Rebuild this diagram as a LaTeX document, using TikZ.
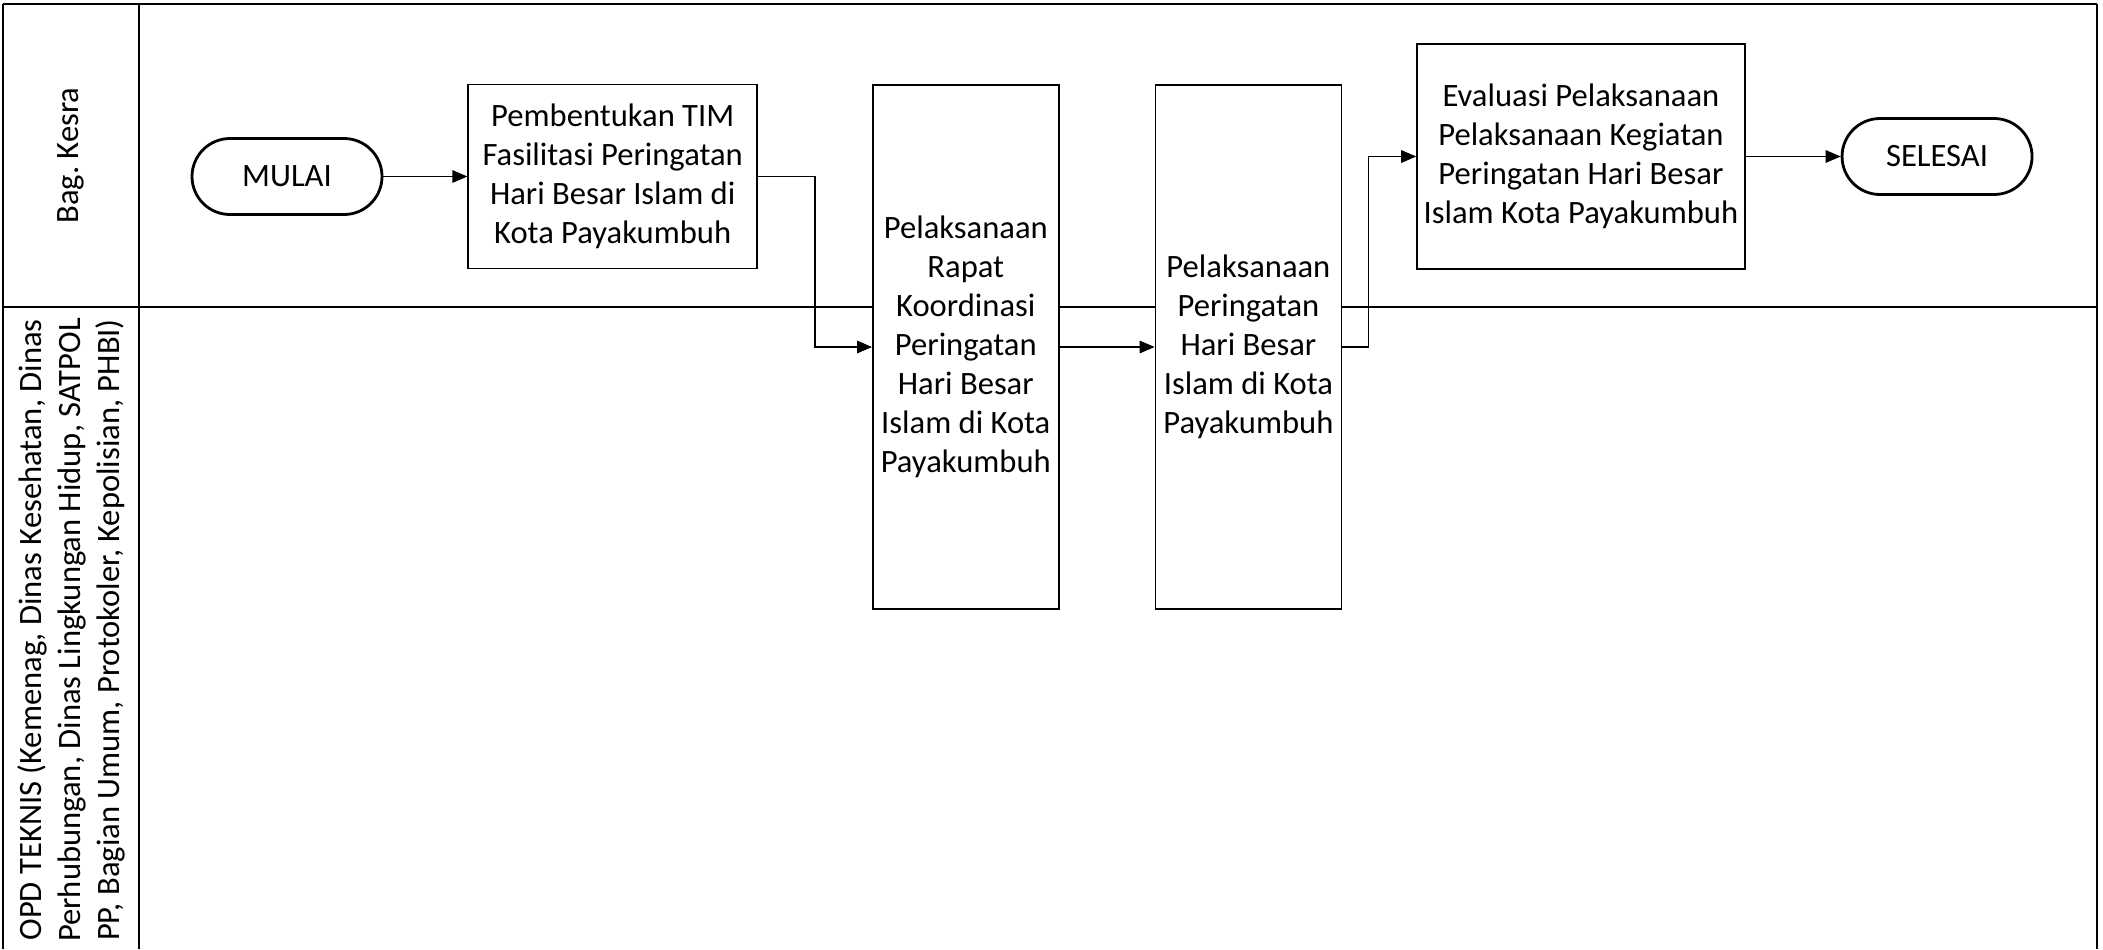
\documentclass[tikz,border=0pt]{standalone}
\usepackage{fontspec}
\setmainfont{Carlito}
\usepackage{tikz}
\usetikzlibrary{arrows.meta, positioning}
\tikzstyle{terminal} = [rectangle, rounded corners=19pt, minimum width=95pt, minimum height=38pt, text centered, draw=black, line width=1.4pt, fill=white]
\tikzstyle{process} = [rectangle, minimum width=93pt, minimum height=262pt, align=center, draw=black, line width=0.8pt, fill=white]
\tikzstyle{arrow} = [line width=0.6pt, ->, >={Triangle[length=7.5pt, width=6.3pt]}]
\tikzstyle{lane} = [line width=1.1pt]

\begin{document}
\begin{tikzpicture}[x=0.5pt, y=-0.5pt, node distance=47.5pt, font=\fontsize{16.3}{19.5}\selectfont]
\useasboundingbox (0,0) rectangle (2103,949);
% swimlanes
\draw [lane] (3,4) -- (2097,4);
\draw [lane] (3,307) -- (2097,307);
\draw [lane] (3,4) -- (3,949);
\draw [lane] (139,4) -- (139,949);
\draw [lane] (2097,4) -- (2097,949);
\node (kesra) [rotate=90] at (71,155.5) {Bag.\ Kesra};
\node (opd) [rotate=90, align=center] at (71,630) {OPD TEKNIS (Kemenag, Dinas Kesehatan, Dinas\\Perhubungan, Dinas Lingkungan Hidup, SATPOL\\PP, Bagian Umum, Protokoler, Kepolisian, PHBI)};

% steps
\node (start) [terminal] at (287,176.5) {MULAI};
\node (tim) [process, right=42pt of start, minimum width=144.5pt, minimum height=92pt] {Pembentukan TIM\\Fasilitasi Peringatan\\Hari Besar Islam di\\Kota Payakumbuh};
\node (rapat) [process, right=57pt of tim, yshift=-85.25pt] {Pelaksanaan\\Rapat\\Koordinasi\\Peringatan\\Hari Besar\\Islam di Kota\\Payakumbuh};
\node (pelaksanaan) [process, right=of rapat] {Pelaksanaan\\Peringatan\\Hari Besar\\Islam di Kota\\Payakumbuh};
\node (evaluasi) [process, right=37pt of pelaksanaan, yshift=95.25pt, minimum width=160.5pt, minimum height=112.5pt] {Evaluasi Pelaksanaan\\Pelaksanaan Kegiatan\\Peringatan Hari Besar\\Islam Kota Payakumbuh};
\node (finish) [terminal, right=of evaluasi] {SELESAI};

\draw [arrow] (start) -- (tim);
\draw [arrow] (tim.east) -- ++(57,0) |- (rapat.west);
\draw [arrow] (rapat) -- (pelaksanaan);
\draw [arrow] (pelaksanaan.east) -- ++(26,0) |- (evaluasi.west);
\draw [arrow] (evaluasi) -- (finish);
\end{tikzpicture}
\end{document}
